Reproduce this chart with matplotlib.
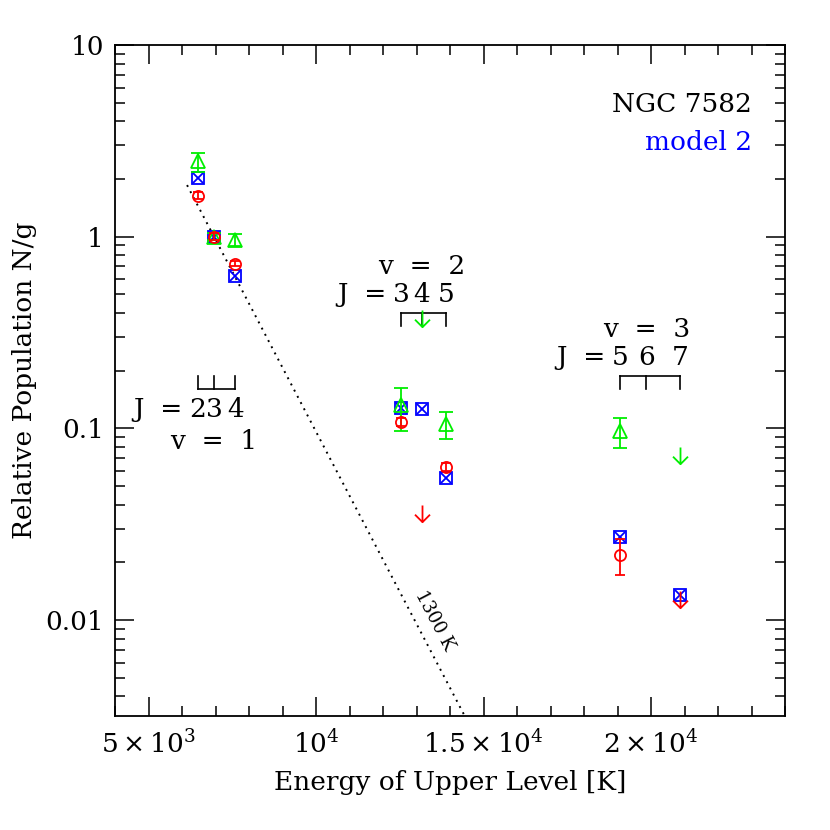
import numpy as np
import matplotlib
matplotlib.use("Agg")
import matplotlib.pyplot as plt
from matplotlib.path import Path
from matplotlib.ticker import FixedLocator, FixedFormatter, MultipleLocator

plt.rcParams['font.family'] = ['DejaVu Serif']
plt.rcParams['mathtext.fontset'] = 'dejavuserif'

# level energies [K]
E_v1 = [6471, 6956, 7586]      # v=1, J=2,3,4
E_v2 = [12550, 13150, 13890]   # v=2, J=3,4,5
E_v3 = [19086, 19864, 20856]   # v=3, J=5,6,7

# observed (green triangles)
obs_E = [6471, 6956, 7586, 12550, 13890, 19086]
obs_N = [2.47, 1.00, 0.965, 0.133, 0.105, 0.0968]
obs_lo = [2.18, 0.96, 0.89, 0.0968, 0.0877, 0.0787]
obs_hi = [2.73, 1.04, 1.03, 0.163, 0.1216, 0.1128]
obs_lim_E = [13150, 20856]
obs_lim_N = [0.417, 0.080]

# second data set (red circles)
red_E = [6471, 6956, 7586, 12550, 13890, 19086]
red_N = [1.635, 1.00, 0.723, 0.108, 0.063, 0.0218]
red_lo = [1.57, 0.96, 0.70, 0.103, 0.060, 0.0172]
red_hi = [1.71, 1.04, 0.75, 0.113, 0.066, 0.0264]
red_lim_E = [13150, 20856]
red_lim_N = [0.040, 0.0142]

# model 2 (blue boxes)
mod_E = [6471, 6956, 7586, 12550, 13150, 13890, 19086, 20856]
mod_N = [2.02, 1.00, 0.621, 0.128, 0.126, 0.0554, 0.0270, 0.0135]

T_ex = 1300.0
E_ref = 6956.0

xticks = [5000, 10000, 15000, 20000]
xticklabels = [r'$5\times10^3$', r'$10^4$', r'$1.5\times10^4$', r'$2\times10^4$']
yticks = [0.01, 0.1, 1, 10]
yticklabels = ['0.01', '0.1', '1', '10']

green = '#00ee00'
red = '#ff0000'
blue = '#0000ff'

# down arrow marker for upper limits (top of arrow at the data point)
arrow = Path([(0, 0), (0, -1), (-0.45, -0.55), (0, -1), (0.45, -0.55)],
             [Path.MOVETO, Path.LINETO, Path.MOVETO, Path.LINETO, Path.LINETO])

fig = plt.figure(figsize=(8.3, 8.3), dpi=100)
ax = fig.add_axes([0.1386, 0.1373, 0.8072, 0.8085])
ax.set_yscale('log')
ax.set_xlim(4000, 24000)
ax.set_ylim(10 ** -2.5, 10)

# 1300 K line
Eline = np.linspace(6150, 15000, 50)
ax.plot(Eline, np.exp(-(Eline - E_ref) / T_ex), color='k', lw=1.4,
        linestyle=(0, (1, 2.6)), zorder=1)

# model
ax.plot(mod_E, mod_N, 's', ms=9, mfc='none', mec=blue, mew=1.3, zorder=3)
ax.plot(mod_E, mod_N, 'x', ms=7, mec=blue, mew=1.3, zorder=3)

# observations
obs_N = np.array(obs_N)
ax.errorbar(obs_E, obs_N, yerr=[obs_N - np.array(obs_lo), np.array(obs_hi) - obs_N],
            fmt='^', ms=10, mfc='none', mec=green, mew=1.3, ecolor=green,
            elinewidth=1.3, capsize=5, capthick=1.3, zorder=4)
ax.plot(obs_lim_E, obs_lim_N, ls='none', marker=arrow, ms=24, mfc='none',
        mec=green, mew=1.3, zorder=4)

red_N = np.array(red_N)
ax.errorbar(red_E, red_N, yerr=[red_N - np.array(red_lo), np.array(red_hi) - red_N],
            fmt='o', ms=8, mfc='none', mec=red, mew=1.3, ecolor=red,
            elinewidth=1.3, capsize=3.6, capthick=1.3, zorder=5)
ax.plot(red_lim_E, red_lim_N, ls='none', marker=arrow, ms=24, mfc='none',
        mec=red, mew=1.3, zorder=5)

# brackets and J / v labels
def bracket(levels, y_line, y_tick, y_J, y_v, v):
    ax.plot([levels[0], levels[-1]], [y_line, y_line], color='k', lw=1.2)
    for e in levels:
        ax.plot([e, e], [y_line, y_tick], color='k', lw=1.2)
    for j, e in zip(J_list[v], levels):
        ax.text(e, y_J, str(j), ha='center', va='center', fontsize=19)
    ax.annotate('J  =', (levels[0], y_J), xytext=(-11, 0), textcoords='offset points',
                ha='right', va='center', fontsize=19)
    ax.text(levels[1], y_v, 'v  =  %d' % v, ha='center', va='center', fontsize=19)

J_list = {1: [2, 3, 4], 2: [3, 4, 5], 3: [5, 6, 7]}
bracket(E_v1, 0.1615, 0.187, 0.1256, 0.0855, 1)
bracket(E_v2, 0.402, 0.344, 0.499, 0.698, 2)
bracket(E_v3, 0.187, 0.160, 0.234, 0.328, 3)

# label on the line
p0 = ax.transData.transform((7000, np.exp(-(7000 - E_ref) / T_ex)))
p1 = ax.transData.transform((14000, np.exp(-(14000 - E_ref) / T_ex)))
ang = np.degrees(np.arctan2(p1[1] - p0[1], p1[0] - p0[0]))
ax.text(13540, 0.0100, '1300 K', rotation=ang, rotation_mode='anchor',
        ha='center', va='center', fontsize=13)

ax.text(0.951, 0.912, 'NGC 7582', transform=ax.transAxes, ha='right', va='center',
        fontsize=19)
ax.text(0.951, 0.855, 'model 2', transform=ax.transAxes, ha='right', va='center',
        fontsize=19, color=blue)

ax.xaxis.set_major_locator(FixedLocator(xticks))
ax.xaxis.set_major_formatter(FixedFormatter(xticklabels))
ax.xaxis.set_minor_locator(MultipleLocator(1000))
ax.yaxis.set_major_locator(FixedLocator(yticks))
ax.yaxis.set_major_formatter(FixedFormatter(yticklabels))
ax.tick_params(which='both', direction='in', top=True, right=True, width=1.1)
ax.tick_params(which='major', length=14, labelsize=19)
ax.tick_params(axis='x', which='major', pad=10)
ax.tick_params(axis='y', which='major', pad=8)
ax.tick_params(which='minor', length=7)
for s in ax.spines.values():
    s.set_linewidth(1.3)

ax.set_xlabel('Energy of Upper Level [K]', fontsize=19, labelpad=8)
ax.set_ylabel('Relative Population N/g', fontsize=19, labelpad=6)

fig.savefig('out.png', dpi=100)
